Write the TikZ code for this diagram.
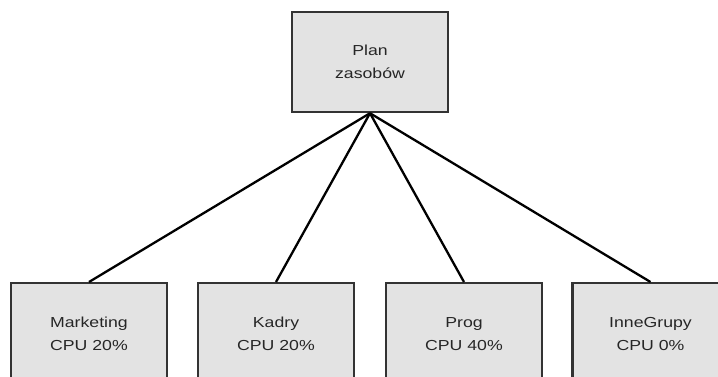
\documentclass[tikz,border=0pt]{standalone}
\usepackage{fontspec}
\setmainfont{Liberation Sans}[FakeStretch=1.22]
\begin{document}
\begin{tikzpicture}[x=1pt,y=-1pt,
  box/.style={draw=black!80,line width=2.4pt,fill=black!11,minimum width=156pt,minimum height=100pt,align=center,inner sep=0pt},
  lbl/.style={align=center,font=\fontsize{14.5pt}{23pt}\selectfont,text=black!85},
  link/.style={draw=black,line width=2.3pt}]
\useasboundingbox (0,0) rectangle (718,377);
\begin{scope}
\clip (0,0) rectangle (718,377);
\node[box,lbl] (plan) at (370,62) {Plan\\zasobów};
\node[box,anchor=north] (m) at (89,282) {};
\node[box,anchor=north] (k) at (276,282) {};
\node[box,anchor=north] (p) at (464,282) {};
\node[box,anchor=north] (i) at (650.5,282) {};
\node[lbl] (mt) at (89,334) {Marketing\\CPU 20\%};
\node[lbl] (kt) at (276,334) {Kadry\\CPU 20\%};
\node[lbl] (pt) at (464,334) {Prog\\CPU 40\%};
\node[lbl] (it) at (650.5,334) {InneGrupy\\CPU 0\%};
\draw[link] (plan.south) -- (m.north);
\draw[link] (plan.south) -- (k.north);
\draw[link] (plan.south) -- (p.north);
\draw[link] (plan.south) -- (i.north);
\end{scope}
\end{tikzpicture}
\end{document}
